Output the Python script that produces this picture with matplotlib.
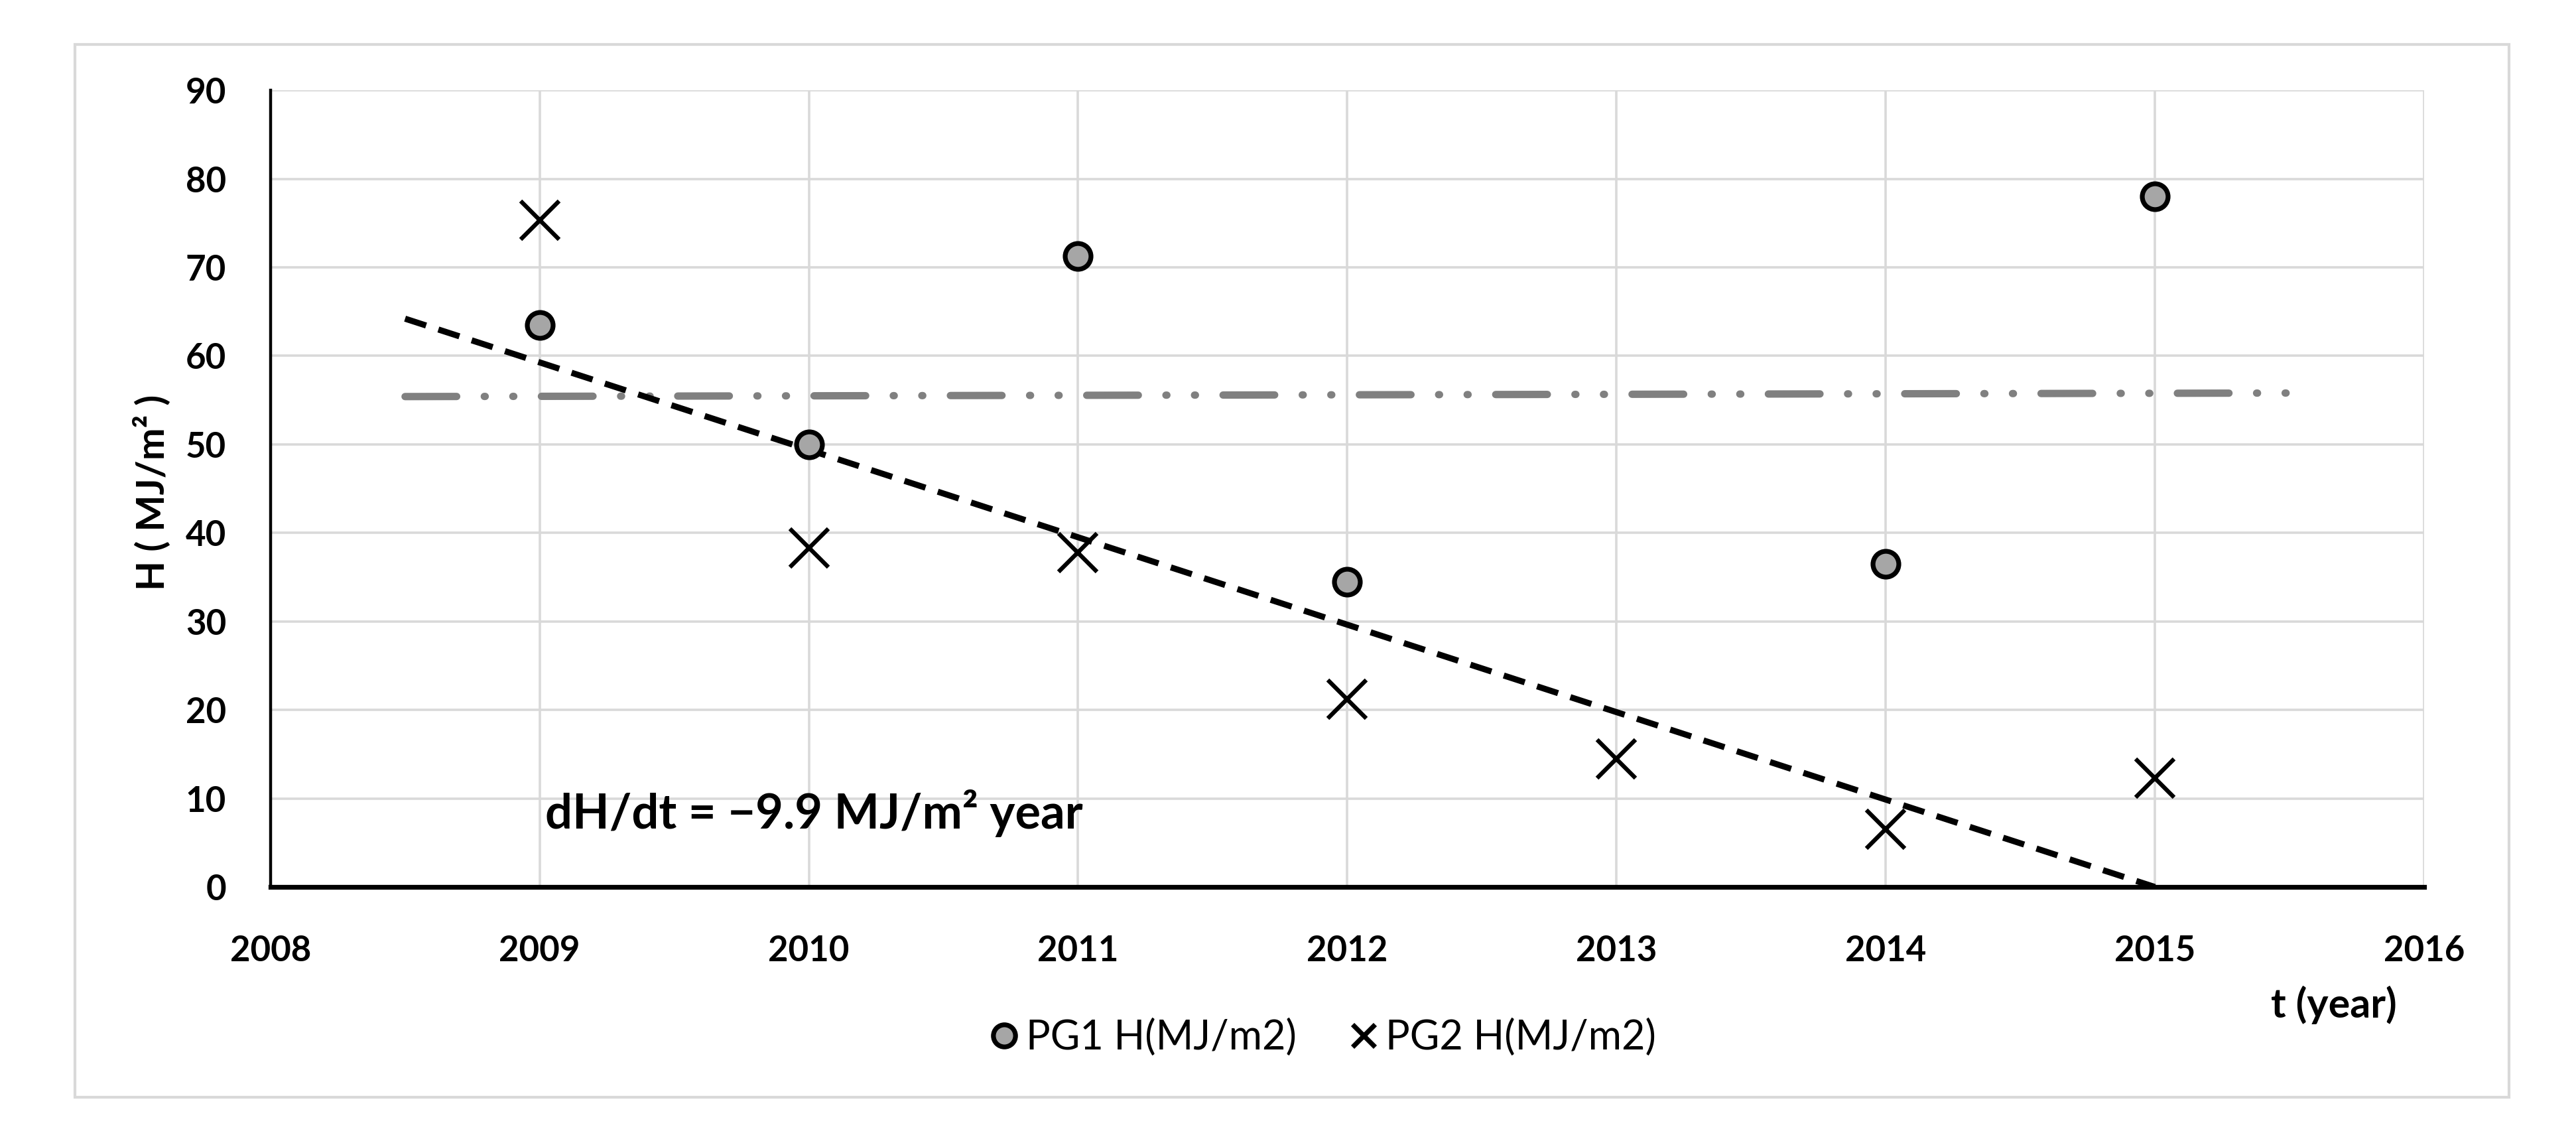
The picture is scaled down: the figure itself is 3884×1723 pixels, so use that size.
import matplotlib
matplotlib.use('Agg')
import matplotlib.pyplot as plt
from matplotlib.patches import Rectangle
from matplotlib.lines import Line2D

plt.rcParams['font.family'] = ['Lato', 'DejaVu Sans']
plt.rcParams['lines.scale_dashes'] = False

# data
years_pg1 = [2009, 2010, 2011, 2012, 2014, 2015]
h_pg1 = [63.5, 50.0, 71.3, 34.5, 36.5, 78.0]
years_pg2 = [2009, 2010, 2011, 2012, 2013, 2014, 2015]
h_pg2 = [75.3, 38.3, 37.8, 21.2, 14.5, 6.5, 12.3]
trend_x = [2008.5, 2015.0]
trend_y = [64.2, 0.0]
mean_x = [2008.5, 2015.5]
mean_y = [55.4, 55.8]
x_ticks = list(range(2008, 2017))
y_ticks = list(range(0, 91, 10))
legend_labels = ['PG1 H(MJ/m2)', 'PG2 H(MJ/m2)']

fig = plt.figure(figsize=(19.42, 8.615), dpi=200)
ax = fig.add_axes([0.105, 0.224, 0.836, 0.697])

# outer chart border
fig.patches.append(Rectangle((0.029, 0.040), 0.945, 0.921, transform=fig.transFigure,
                             fill=False, edgecolor='#d9d9d9', lw=1.5))

ax.plot(mean_x, mean_y, color='#808080', lw=4.0, dash_capstyle='round',
        dashes=(28, 15, 0.5, 15, 0.5, 15), zorder=2)
ax.plot(trend_x, trend_y, color='black', lw=3.3, dashes=(12, 7), zorder=2)

ax.plot(years_pg1, h_pg1, ls='none', marker='o', ms=14, mfc='#a6a6a6', mec='black',
        mew=2.6, zorder=3)
ax.plot(years_pg2, h_pg2, ls='none', marker='x', ms=21, mec='black', mew=2.3, zorder=3)

ax.set_xlim(2008, 2016)
ax.set_ylim(0, 90)
ax.set_xticks(x_ticks)
ax.set_yticks(y_ticks)
ax.grid(True, color='#d9d9d9', lw=1.3)
ax.set_axisbelow(True)
for s in ['top', 'right']:
    ax.spines[s].set_visible(False)
ax.spines['left'].set_linewidth(1.6)
ax.spines['bottom'].set_linewidth(2.6)
ax.tick_params(length=0, labelsize=19, pad=24)
ax.tick_params(axis='x', pad=26)
for lab in ax.get_xticklabels() + ax.get_yticklabels():
    lab.set_fontweight('bold')

ax.text(2009.02, 8.3, 'dH/dt = \u22129.9 MJ/m\u00b2 year', fontsize=26, fontweight='bold',
        va='center', ha='left')

fig.text(0.059, 0.569, 'H ( MJ/m\u00b2 )', rotation=90, fontsize=21, fontweight='bold',
         ha='center', va='center')
fig.text(0.906, 0.121, 't (year)', fontsize=22, fontweight='bold', ha='center', va='center')

# legend handles: circle about plot size, cross smaller like the original
h1 = Line2D([], [], ls='none', marker='o', ms=12, mfc='#a6a6a6', mec='black', mew=2.6)
h2 = Line2D([], [], ls='none', marker='x', ms=12, mec='black', mew=2.6)
fig.legend([h1, h2], legend_labels, loc='center', bbox_to_anchor=(0.512, 0.092), ncol=2,
           frameon=False, fontsize=22, handletextpad=0.0, columnspacing=1.1,
           handlelength=1.1)

fig.savefig('out.png', dpi=200)
